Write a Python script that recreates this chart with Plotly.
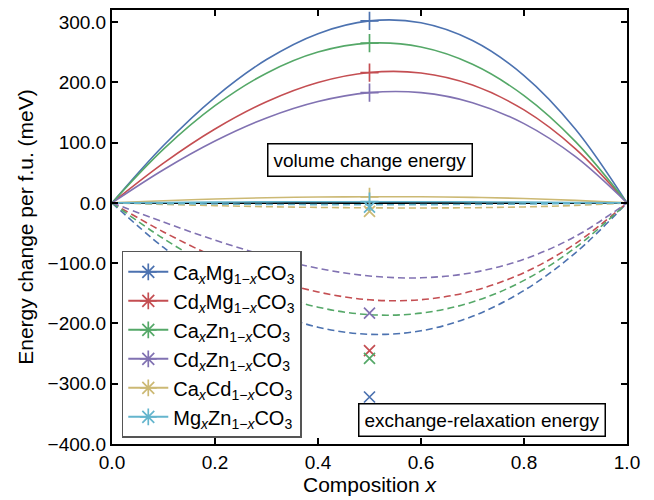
import plotly.graph_objects as go

x = [0.0, 0.1, 0.2, 0.3, 0.4, 0.5, 0.6, 0.7, 0.8, 0.9, 1.0]

names = [
    "Ca<sub><i>x</i></sub>Mg<sub>1\u2212<i>x</i></sub>CO<sub>3</sub>",
    "Cd<sub><i>x</i></sub>Mg<sub>1\u2212<i>x</i></sub>CO<sub>3</sub>",
    "Ca<sub><i>x</i></sub>Zn<sub>1\u2212<i>x</i></sub>CO<sub>3</sub>",
    "Cd<sub><i>x</i></sub>Zn<sub>1\u2212<i>x</i></sub>CO<sub>3</sub>",
    "Ca<sub><i>x</i></sub>Cd<sub>1\u2212<i>x</i></sub>CO<sub>3</sub>",
    "Mg<sub><i>x</i></sub>Zn<sub>1\u2212<i>x</i></sub>CO<sub>3</sub>",
]
colors = ["#4C72B0", "#C44E52", "#55A868", "#8172B2", "#CCB974", "#64B5CD"]

# volume change energy (solid)
vol_CaMg = [0, 95.2, 175.2, 237.8, 280.8, 301.9, 298.8, 269.3, 211.2, 122.2, 0]
vol_CdMg = [0, 66.0, 122.6, 167.8, 199.7, 216.3, 215.5, 195.5, 154.2, 89.7, 0]
vol_CaZn = [0, 89.1, 161.2, 215.2, 250.2, 265.0, 258.6, 230.0, 178.0, 101.7, 0]
vol_CdZn = [0, 55.0, 102.6, 140.9, 168.2, 183.0, 182.9, 166.3, 131.5, 76.7, 0]
vol_CaCd = [0, 3.5, 6.5, 8.5, 9.7, 10.2, 10.1, 9.2, 7.3, 4.2, 0]
vol_MgZn = [0, 0.7, 1.3, 1.7, 1.9, 2.0, 1.9, 1.7, 1.3, 0.7, 0]

# exchange-relaxation energy (dashed)
ex_CaMg = [0, -74.0, -133.6, -177.9, -206.2, -218.0, -212.2, -188.2, -145.3, -82.9, 0]
ex_CdMg = [0, -48.2, -89.9, -123.7, -147.8, -160.8, -160.6, -146.2, -115.7, -67.5, 0]
ex_CaZn = [0, -59.3, -108.6, -147.0, -173.0, -185.5, -182.9, -164.4, -128.6, -74.2, 0]
ex_CdZn = [0, -31.8, -61.8, -88.0, -108.5, -121.3, -124.3, -115.7, -93.4, -55.5, 0]
ex_CaCd = [0, -2.5, -4.6, -6.3, -7.5, -8.2, -8.4, -8.0, -6.7, -4.2, 0]
ex_MgZn = [0, -1.1, -1.9, -2.5, -2.9, -3.0, -2.9, -2.5, -1.9, -1.1, 0]

# values at x = 0.5 (markers)
x_mark = 0.5
vol_mark = [302, 216, 265, 183, 10, 2]
ex_mark = [-322, -245, -258, -183, -14, -7]

vol_all = [vol_CaMg, vol_CdMg, vol_CaZn, vol_CdZn, vol_CaCd, vol_MgZn]
ex_all = [ex_CaMg, ex_CdMg, ex_CaZn, ex_CdZn, ex_CaCd, ex_MgZn]

FONT = "Liberation Sans, Arial, sans-serif"

fig = go.Figure()

for i in range(6):
    fig.add_trace(go.Scatter(x=x, y=ex_all[i], mode="lines", line=dict(color=colors[i], width=1.6, dash="7px,4px", shape="spline", smoothing=1.0), showlegend=False, hoverinfo="skip"))

for i in range(6):
    fig.add_trace(go.Scatter(x=x, y=vol_all[i], mode="lines", line=dict(color=colors[i], width=1.6, shape="spline", smoothing=1.0), showlegend=False, hoverinfo="skip"))

for i in range(6):
    fig.add_trace(go.Scatter(x=[x_mark], y=[vol_mark[i]], mode="markers", marker=dict(symbol="cross-thin-open", size=13, color=colors[i], line=dict(color=colors[i], width=1.7)), showlegend=False))
    fig.add_trace(go.Scatter(x=[x_mark], y=[ex_mark[i]], mode="markers", marker=dict(symbol="x-thin-open", size=11, color=colors[i], line=dict(color=colors[i], width=1.7)), showlegend=False))

for i in range(6):
    fig.add_trace(go.Scatter(x=[None], y=[None], mode="lines+markers", name=names[i], legendgroup="g%d" % i, line=dict(color=colors[i], width=2), marker=dict(symbol="asterisk-open", size=14, color=colors[i], line=dict(color=colors[i], width=1.7))))

fig.add_annotation(x=0.5, y=71, xref="x", yref="y", text="volume change energy", showarrow=False, font=dict(family=FONT, size=19, color="black"), bgcolor="white", bordercolor="black", borderwidth=1.5, borderpad=5)
fig.add_annotation(x=0.718, y=-360, xref="x", yref="y", text="exchange-relaxation energy", showarrow=False, font=dict(family=FONT, size=19, color="black"), bgcolor="white", bordercolor="black", borderwidth=1.5, borderpad=5)

# page body has an 8px margin; size/margins compensate so the plot area lands at px 112..627 x 8..444
fig.update_layout(
    width=646, height=492,
    margin=dict(l=104, r=27, t=0, b=56),
    paper_bgcolor="white", plot_bgcolor="white",
    font=dict(family=FONT, size=19, color="black"),
    legend=dict(x=0.019, y=0.445, xanchor="left", yanchor="top", bgcolor="white", bordercolor="#555555", borderwidth=1.5, font=dict(size=20), tracegroupgap=0, itemwidth=40),
    xaxis=dict(range=[0, 1], tickvals=[0, 0.2, 0.4, 0.6, 0.8, 1.0], tickformat=".1f", showline=True, linecolor="black", linewidth=2, mirror="ticks", ticks="inside", ticklen=6, tickwidth=1.5, tickcolor="black", showgrid=False, zeroline=False, title=dict(text="Composition <i>x</i>", font=dict(size=21), standoff=6), tickfont=dict(size=19)),
    yaxis=dict(range=[-400, 320], tickvals=[-400, -300, -200, -100, 0, 100, 200, 300], tickformat=".1f", showline=True, linecolor="black", linewidth=2, mirror="ticks", ticks="inside", ticklen=6, tickwidth=1.5, tickcolor="black", showgrid=False, zeroline=True, zerolinecolor="black", zerolinewidth=2, title=dict(text="Energy change per f.u. (meV)", font=dict(size=21), standoff=8), tickfont=dict(size=19)),
)

fig.write_html("out.html")
